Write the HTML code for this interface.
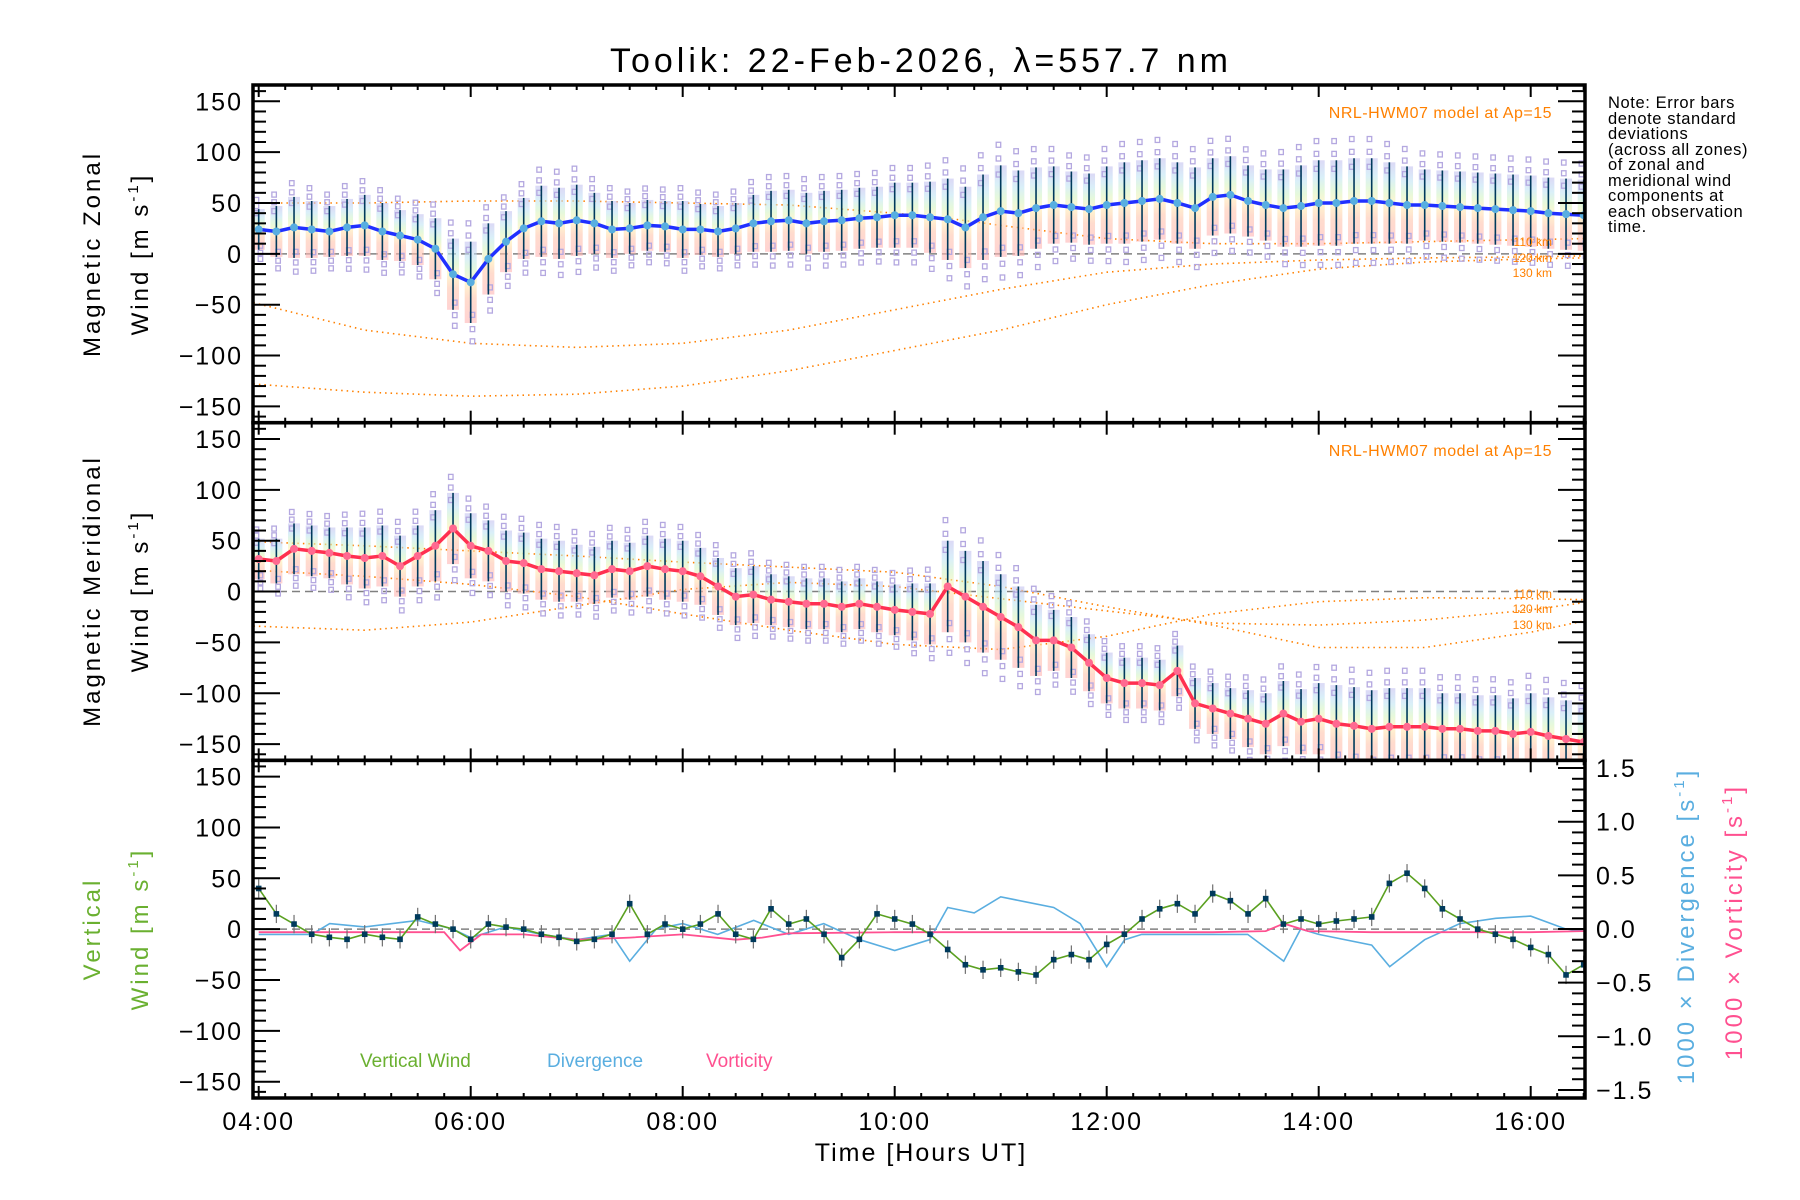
<!DOCTYPE html>
<html><head><meta charset="utf-8"><style>
html,body{margin:0;padding:0;background:#fff;}
svg{display:block;font-family:"Liberation Sans",sans-serif;}
</style></head><body>
<svg id="chart" xmlns="http://www.w3.org/2000/svg" width="1800" height="1200" viewBox="0 0 1800 1200">
<defs>
<linearGradient id="band" x1="0" y1="0" x2="0" y2="1">
<stop offset="0" stop-color="#c4c0f0"/><stop offset="0.2" stop-color="#c0e4f4"/><stop offset="0.35" stop-color="#d4f4c4"/><stop offset="0.5" stop-color="#fff0b0"/><stop offset="0.7" stop-color="#ffc4ac"/><stop offset="1" stop-color="#ffb4b4"/>
</linearGradient>
<clipPath id="c0"><rect x="253" y="85" width="1332" height="337.7"/></clipPath>
<clipPath id="c1"><rect x="253" y="422.7" width="1332" height="337.6"/></clipPath>
<clipPath id="c2"><rect x="253" y="760.3" width="1332" height="337.7"/></clipPath>
</defs>
<text x="921" y="72" font-size="34" text-anchor="middle" letter-spacing="4">Toolik: 22-Feb-2026, λ=557.7 nm</text>
<g id="layer"></g>
</svg>
<script>
// ---- data (10-min cadence, 04:00 .. 16:30) ----
const zonalMean=[24,22,26,24,22,26,28,22,18,14,5,-20,-28,-5,12,25,32,30,33,30,24,25,28,27,24,24,22,25,30,32,33,30,32,33,35,36,38,38,36,34,26,36,42,40,45,48,46,44,48,50,52,54,50,45,56,58,52,48,45,47,50,50,52,52,50,48,48,47,46,45,44,43,42,40,39,38];
const zonalStd=[20,25,30,28,25,28,30,28,25,25,30,35,40,35,30,30,35,35,35,30,28,25,25,25,28,25,25,25,28,30,30,30,30,30,30,30,32,32,35,40,40,42,45,42,40,38,35,35,38,40,40,40,40,40,38,38,35,35,38,40,42,42,42,42,40,38,35,35,35,35,35,35,35,35,35,35];
const merMean=[32,30,42,40,38,35,33,35,25,35,45,62,45,40,30,28,22,20,18,16,22,20,25,22,20,15,5,-5,-3,-8,-10,-12,-12,-15,-12,-15,-18,-20,-22,5,-5,-15,-25,-35,-48,-48,-55,-70,-85,-90,-90,-92,-78,-110,-115,-120,-125,-130,-120,-128,-125,-130,-132,-135,-133,-133,-133,-135,-135,-137,-137,-140,-138,-142,-145,-148];
const merStd=[20,22,25,25,25,28,30,30,30,30,35,35,32,30,30,30,30,30,28,28,28,28,30,30,30,28,28,28,28,25,25,25,25,25,25,25,25,28,30,45,45,45,42,40,35,30,30,28,25,25,25,25,25,25,25,25,28,30,32,32,35,38,38,38,38,38,38,35,35,35,35,35,38,38,38,38];
const vertWind=[40,15,5,-5,-8,-10,-5,-8,-10,12,5,0,-10,5,2,0,-5,-8,-12,-10,-5,25,-5,5,0,5,15,-5,-10,20,5,10,-5,-28,-10,15,10,5,-5,-20,-35,-40,-38,-42,-45,-30,-25,-30,-15,-5,10,20,25,15,35,28,15,30,5,10,5,8,10,12,45,55,40,20,10,0,-5,-10,-18,-25,-45,-35];
const divT=[4,4.5,4.67,5,5.5,5.83,6,6.33,6.67,7,7.33,7.5,7.75,8,8.33,8.67,9,9.33,9.67,10,10.33,10.5,10.75,11,11.25,11.5,11.75,12,12.17,12.33,12.67,13,13.33,13.67,13.83,14,14.5,14.67,15,15.33,15.67,16,16.33,16.5];
const divV=[-0.05,-0.05,0.05,0.02,0.08,0,-0.08,0.02,-0.05,-0.1,-0.05,-0.3,0,0.05,-0.05,0.08,-0.05,0.05,-0.1,-0.2,-0.1,0.2,0.15,0.3,0.25,0.2,0.05,-0.35,-0.1,-0.05,-0.05,-0.05,-0.05,-0.3,0,-0.05,-0.15,-0.35,-0.1,0.05,0.1,0.12,0,-0.02];
const vorT=[4,5,5.75,5.9,6.1,6.5,7,7.5,8,8.5,8.75,9,10,11,12,13,13.5,13.67,13.9,14.5,15,16,16.5];
const vorV=[-0.03,-0.03,-0.03,-0.2,-0.05,-0.05,-0.1,-0.08,-0.05,-0.1,-0.08,-0.04,-0.03,-0.03,-0.03,-0.03,-0.02,0.05,-0.02,-0.03,-0.03,-0.03,-0.02];
const m1T=[3.95,5,6,7,8,9,10,10.5,11,12,13,14,15,16,16.5];
const m1k110=[50,50,52,52,50,48,40,35,28,15,10,10,12,14,15];
const m1k120=[-48,-75,-88,-92,-88,-75,-55,-45,-35,-18,-10,-6,-4,-3,-2];
const m1k130=[-128,-136,-140,-138,-130,-115,-95,-85,-75,-50,-30,-15,-8,-5,-4];
const m2T=[3.95,5,6,7,8,9,10,11,12,13,14,15,16,16.5];
const m2k110=[21,15,7,-5,-22,-38,-52,-57,-44,-22,-10,-6,-7,-8];
const m2k120=[-34,-38,-30,-14,2,9,5,-7,-19,-31,-33,-28,-18,-11];
const m2k130=[49,45,40,35,29,24,19,5,-15,-33,-55,-55,-40,-29];
const xTickLabels=["04:00","06:00","08:00","10:00","12:00","14:00","16:00"];
const yTickLabels=["150","100","50","0","−50","−100","−150"];
const rTickLabels=["1.5","1.0","0.5","0.0","−0.5","−1.0","−1.5"];

// ---- geometry ----
const NS="http://www.w3.org/2000/svg";
const L=253,R=1585,TOPS=[85,422.7,760.3],PH=337.7;
const X=t=>258.7+(t-4)*106;
const Y=(v,p)=>TOPS[p]+PH/2-v*1.017;
const YR=d=>929-d*107.3;
const T=i=>4+i/6;
const layer=document.getElementById('layer');
function mk(tag,attrs,parent){const e=document.createElementNS(NS,tag);for(const k in attrs)e.setAttribute(k,attrs[k]);(parent||layer).appendChild(e);return e;}
function pathD(xs,ys){return xs.map((x,i)=>(i?'L':'M')+x.toFixed(1)+' '+ys[i].toFixed(1)).join(' ');}

function drawMeanPanel(p,mean,std,lineCol,dotCol,nm){
  const g=mk('g',{'clip-path':'url(#c'+p+')'});
  
  
  mean.forEach((m,i)=>{
    const x=X(T(i)),s=std[i];
    const r=mk('rect',{x:x-6,y:Y(m+s,p),width:12,height:Y(m-s,p)-Y(m+s,p),fill:'url(#band)',opacity:0.6},g);
    
    
  });
  mean.forEach((m,i)=>{
    const x=X(T(i)),s=std[i];
    [1.15,-1.15,1.45,-1.45,0.8,-0.8].forEach((f,j)=>{
      const q=mk('rect',{x:x-2.5+((j%2)?2:-2),y:Y(m+s*f,p)-2.5,width:4.5,height:5,fill:'none',stroke:'#b4a8e0','stroke-width':1.3},g);
      
      
    });
    const b=mk('line',{x1:x,x2:x,y1:Y(m+s,p),y2:Y(m-s,p),stroke:'#003a5c','stroke-width':1.6},g);
    
    
  });
  const ln=mk('path',{d:pathD(mean.map((_,i)=>X(T(i))),mean.map(m=>Y(m,p))),fill:'none',stroke:lineCol,'stroke-width':3.5},g);
  
  
  mean.forEach((m,i)=>{
    const c=mk('circle',{cx:X(T(i)),cy:Y(m,p),r:4,fill:dotCol},g);
    
    
  });
}
function drawModel(p,ts,vs,nm){
  const e=mk('path',{d:pathD(ts.map(X),vs.map(v=>Y(v,p))),fill:'none',stroke:'#ff8000','stroke-width':1.6,'stroke-dasharray':'1.5 4','clip-path':'url(#c'+p+')'});
  
  
}
function zeroLine(p){
  const e=mk('line',{x1:L,x2:R,y1:Y(0,p),y2:Y(0,p),stroke:'#808080','stroke-width':1.5,'stroke-dasharray':'8 5'});
  
  
}

[0,1].forEach(p=>zeroLine(p));
drawModel(0,m1T,m1k110,'zonal-model-110km');
drawModel(0,m1T,m1k120,'zonal-model-120km');
drawModel(0,m1T,m1k130,'zonal-model-130km');
drawModel(1,m2T,m2k110,'meridional-model-110km');
drawModel(1,m2T,m2k120,'meridional-model-120km');
drawModel(1,m2T,m2k130,'meridional-model-130km');
drawMeanPanel(0,zonalMean,zonalStd,'#2030ff','#58aee0','zonal');
drawMeanPanel(1,merMean,merStd,'#ff3050','#ff6a90','meridional');

zeroLine(2);
{
  const g=mk('g',{'clip-path':'url(#c2)'});
  const dv=mk('path',{d:pathD(divT.map(X),divV.map(YR)),fill:'none',stroke:'#5aaee0','stroke-width':1.6},g);
  
  
  const vr=mk('path',{d:pathD(vorT.map(X),vorV.map(YR)),fill:'none',stroke:'#ff5090','stroke-width':1.8},g);
  
  
  vertWind.forEach((v,i)=>{
    const x=X(T(i));
    const b=mk('line',{x1:x,x2:x,y1:Y(v+9,2),y2:Y(v-9,2),stroke:'#707070','stroke-width':1.2},g);
    
    
  });
  const vw=mk('path',{d:pathD(vertWind.map((_,i)=>X(T(i))),vertWind.map(v=>Y(v,2))),fill:'none',stroke:'#5aa020','stroke-width':1.6},g);
  
  
  vertWind.forEach((v,i)=>{
    const s=mk('rect',{x:X(T(i))-2.8,y:Y(v,2)-2.8,width:5.6,height:5.6,fill:'#003a5c'},g);
    
    
  });
}

TOPS.forEach((top,p)=>{
  const bot=top+PH;
  const ax=mk('g',{stroke:'#000','stroke-width':2});
  
  
  for(let v=-160;v<=160;v+=10){
    const y=Y(v,p),len=(v%50===0)?27:13;
    mk('line',{x1:L,x2:L+len,y1:y,y2:y},ax);
    if(p<2) mk('line',{x1:R,x2:R-len,y1:y,y2:y},ax);
  }
  if(p===2){
    for(let k=-15;k<=15;k++){const y=YR(k/10),len=(k%5===0)?27:13;mk('line',{x1:R,x2:R-len,y1:y,y2:y},ax);}
  }
  for(let k=0;k<=50;k++){
    const x=X(4+k/4);if(x>R)break;const len=(k%8===0)?12:5;
    mk('line',{x1:x,x2:x,y1:bot,y2:bot-len},ax);
    mk('line',{x1:x,x2:x,y1:top,y2:top+len},ax);
  }
  mk('rect',{x:L,y:top,width:R-L,height:PH,fill:'none','stroke-width':3.5},ax);
  yTickLabels.forEach((s,i)=>{
    const t=mk('text',{x:243,y:Y(150-50*i,p)+9,'font-size':25,'text-anchor':'end','letter-spacing':2,stroke:'none'});
    t.textContent=s;
    
    
  });
});
rTickLabels.forEach((s,i)=>{
  const t=mk('text',{x:1596,y:YR(1.5-0.5*i)+9,'font-size':25,'letter-spacing':2});
  t.textContent=s;
  
  
});
xTickLabels.forEach((s,i)=>{
  const t=mk('text',{x:X(4+2*i),y:1130,'font-size':25,'text-anchor':'middle','letter-spacing':2});
  t.textContent=s;
  
  
});
</script>
<svg style="position:absolute;left:0;top:0" width="1800" height="1200" xmlns="http://www.w3.org/2000/svg" font-family="Liberation Sans, sans-serif">
<text x="921" y="1161" font-size="25" text-anchor="middle" letter-spacing="2">Time [Hours UT]</text>
<g font-size="24" letter-spacing="3" text-anchor="middle">
<text transform="translate(100,254) rotate(-90)">Magnetic Zonal</text>
<text transform="translate(148,254) rotate(-90)">Wind [m s<tspan font-size="15" dy="-10">-1</tspan><tspan dy="10">]</tspan></text></g>
<g font-size="24" letter-spacing="3" text-anchor="middle">
<text transform="translate(100,591) rotate(-90)">Magnetic Meridional</text>
<text transform="translate(148,591) rotate(-90)">Wind [m s<tspan font-size="15" dy="-10">-1</tspan><tspan dy="10">]</tspan></text></g>
<g font-size="24" letter-spacing="3" text-anchor="middle" fill="#6ab030">
<text transform="translate(100,929) rotate(-90)">Vertical</text>
<text transform="translate(148,929) rotate(-90)">Wind [m s<tspan font-size="15" dy="-10">-1</tspan><tspan dy="10">]</tspan></text></g>
<text transform="translate(1694,926) rotate(-90)" font-size="24" letter-spacing="3" text-anchor="middle" fill="#5aaee0">1000 × Divergence [s<tspan font-size="15" dy="-10">-1</tspan><tspan dy="10">]</tspan></text>
<text transform="translate(1742,922) rotate(-90)" font-size="24" letter-spacing="3" text-anchor="middle" fill="#ff5090">1000 × Vorticity [s<tspan font-size="15" dy="-10">-1</tspan><tspan dy="10">]</tspan></text>
<text x="1552" y="118" font-size="16" text-anchor="end" fill="#ff8000" letter-spacing="0.5">NRL-HWM07 model at Ap=15</text>
<text x="1552" y="456" font-size="16" text-anchor="end" fill="#ff8000" letter-spacing="0.5">NRL-HWM07 model at Ap=15</text>
<g font-size="12" fill="#ff8000" text-anchor="end">
<text x="1552" y="246">110 km</text><text x="1552" y="262">120 km</text><text x="1552" y="277">130 km</text></g>
<g font-size="12" fill="#ff8000" text-anchor="end">
<text x="1552" y="598">110 km</text><text x="1552" y="613">120 km</text><text x="1552" y="629">130 km</text></g>
<g font-size="16.5" letter-spacing="0.6">
<text x="1608" y="108">Note: Error bars</text><text x="1608" y="124">denote standard</text><text x="1608" y="139">deviations</text><text x="1608" y="155">(across all zones)</text><text x="1608" y="170">of zonal and</text><text x="1608" y="186">meridional wind</text><text x="1608" y="201">components at</text><text x="1608" y="217">each observation</text><text x="1608" y="232">time.</text></g>
<text x="360" y="1067" font-size="19" fill="#6ab030">Vertical Wind</text>
<text x="547" y="1067" font-size="19" fill="#5aaee0">Divergence</text>
<text x="706" y="1067" font-size="19" fill="#ff5090">Vorticity</text>
</svg>
</body></html>
